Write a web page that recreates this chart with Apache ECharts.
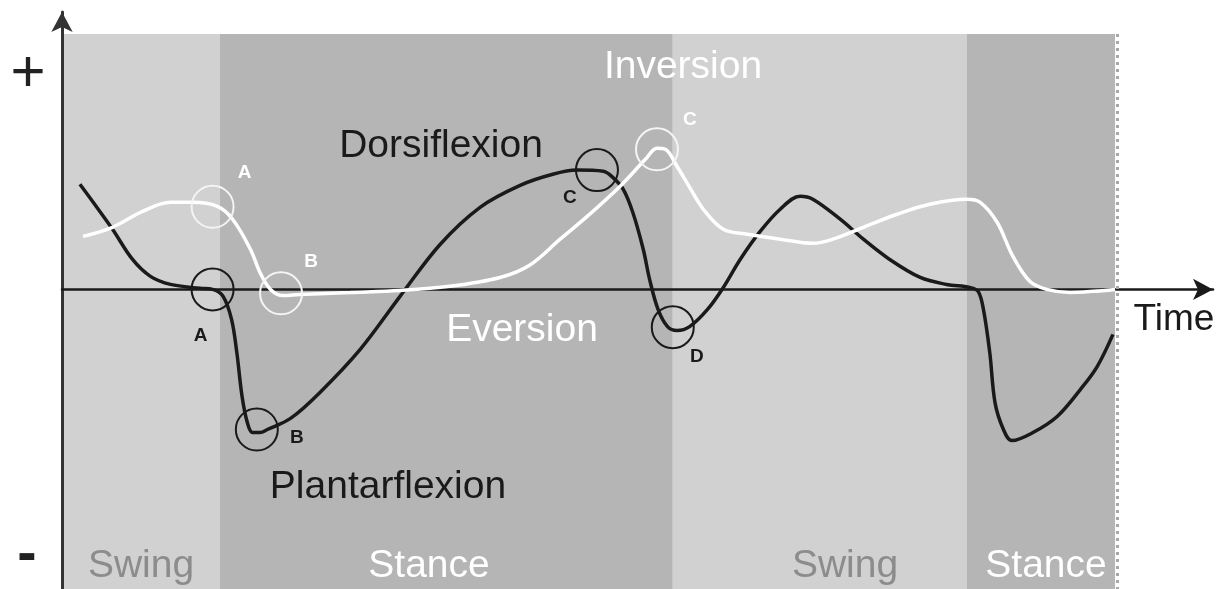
<!DOCTYPE html>
<html>
<head>
<meta charset="utf-8">
<title>Ankle angles over the gait cycle</title>
<script src="https://cdn.jsdelivr.net/npm/echarts@6/dist/echarts.min.js"></script>
<style>
  html, body { margin: 0; padding: 0; background: #fff; }
  #chart { width: 1227px; height: 589px; }
</style>
</head>
<body>
<div id="chart"></div>
<script>
  // time in % of the recorded window, angle in arbitrary units (no ticks on the figure)
  var dorsiTime = [1.7, 3.1, 4.8, 6.7, 8.4, 10.3, 13.1, 14.3, 15.3, 16.1, 16.6, 17.1, 17.6, 18.1, 18.8,
    19.5, 21.7, 24.4, 28.3, 32.1, 35.9, 39.7, 43.5, 46.6, 48.9, 51.4, 52.3, 53.3, 54.2,
    55.2, 55.8, 56.6, 57.5, 58.4, 59.6, 61.3, 62.8, 64.4, 66.3, 68.2, 70.1, 71.3, 73.9, 76.1,
    78.6, 81.5, 84.0, 86.2, 87.0, 87.5, 88.1, 88.6, 89.4, 90.2, 92.2, 94.5, 96.7, 98.3, 99.8];
  var dorsiAngle = [37.9, 30.7, 21.7, 10.8, 4.7, 1.8, 0.4, 0, -2.5, -10.8, -22.7, -38.6, -48.0, -51.6, -51.6,
    -50.5, -46.5, -37.5, -21.7, -2.5, 16.2, 29.6, 37.5, 41.5, 43.0, 42.6, 40.4, 36.1, 27.8,
    14.4, 3.6, -7.2, -13.4, -14.8, -13.4, -7.2, 0.7, 10.8, 20.9, 28.9, 33.6, 32.5, 25.3, 18.1,
    10.8, 4.3, 1.8, 0.7, -0.7, -7.2, -22.7, -40.8, -50.5, -54.5, -51.6, -45.8, -36.1, -27.8, -16.2];

  var inverTime = [2.0, 4.8, 7.7, 10.3, 12.4, 14.7, 16.2, 17.9, 18.8, 19.8, 21.0, 22.6, 27.4, 32.1, 36.8,
    41.6, 44.4, 47.3, 49.9, 53.0, 55.4, 56.5, 57.3, 58.4, 59.6, 60.9, 62.8, 65.1, 68.2, 71.3,
    73.2, 76.1, 79.3, 82.4, 85.9, 87.2, 88.8, 90.3, 91.9, 93.5, 95.7, 97.9, 100];
  var inverAngle = [19.1, 22.4, 28.2, 31.4, 31.4, 30.0, 25.3, 14.4, 6.1, 0, -2.2, -1.8, -1.1, -0.4, 1.1,
    4.3, 8.7, 18.1, 26.4, 37.2, 46.9, 50.9, 50.5, 44.4, 36.8, 28.9, 21.7, 19.9, 18.1, 16.6,
    18.1, 22.4, 27.1, 30.7, 32.5, 31.4, 24.2, 11.9, 2.9, 0, -1.1, -0.7, 0];

  // gait phases
  var phaseNames = ['Swing', 'Stance', 'Swing', 'Stance'];
  var phaseStart = [0, 15.0, 58.0, 85.9];
  var phaseEnd = [15.0, 58.0, 85.9, 100];

  // circled events
  var dorsiEventNames = ['A', 'B', 'C', 'D'];
  var dorsiEventTime = [14.3, 18.5, 50.8, 58.0];
  var dorsiEventAngle = [0, -50.5, 43.0, -13.6];
  var inverEventNames = ['A', 'B', 'C'];
  var inverEventTime = [14.3, 20.8, 56.5];
  var inverEventAngle = [29.8, -1.4, 50.5];

  var yMin = -108, yMax = 100, bandTop = 92.1, xMax = 109.3;
  var FONT = "'Liberation Sans', Arial, sans-serif";

  function pairs(xs, ys) {
    return xs.map(function (x, i) { return [x, ys[i]]; });
  }

  var bandAreas = phaseNames.map(function (name, i) {
    var col = name === 'Swing' ? '#d1d1d1' : '#b5b5b5';
    return [
      { xAxis: phaseStart[i], yAxis: yMin, itemStyle: { color: col } },
      { xAxis: phaseEnd[i], yAxis: bandTop }
    ];
  });

  var dorsiOffsets = [[-12, 46], [40, 8], [-27, 28], [24, 30]];
  var inverOffsets = [[32, -34], [30, -32], [33, -30]];

  function events(names, ts, vs, offsets) {
    return names.map(function (n, i) {
      return {
        name: n,
        value: [ts[i], vs[i]],
        label: { offset: offsets[i] }
      };
    });
  }

  var myChart = echarts.init(document.getElementById('chart'));

  var textItems = [
    ['+', 28, 74, '#222', 'normal 60px ' + FONT],
    ['-', 27, 556, '#222', 'bold 58px ' + FONT],
    ['Inversion', 683, 67, '#ffffff', '39px ' + FONT],
    ['Dorsiflexion', 441, 146, '#1a1a1a', '39px ' + FONT],
    ['Eversion', 522, 330, '#ffffff', '39px ' + FONT],
    ['Plantarflexion', 388, 487, '#1a1a1a', '39px ' + FONT],
    ['Time', 1174, 320, '#1a1a1a', '37px ' + FONT],
    ['Swing', 141, 566, '#8c8c8c', '39px ' + FONT],
    ['Stance', 429, 566, '#ffffff', '39px ' + FONT],
    ['Swing', 845, 566, '#8c8c8c', '39px ' + FONT],
    ['Stance', 1046, 566, '#ffffff', '39px ' + FONT]
  ];

  var option = {
    animation: false,
    grid: { left: 62, right: 14, top: 12, bottom: 0 },
    xAxis: {
      type: 'value',
      min: 0,
      max: xMax,
      z: 2,
      axisLine: {
        onZero: true,
        symbol: ['none', 'arrow'],
        symbolSize: [16, 20],
        lineStyle: { color: '#1a1a1a', width: 2.5 }
      },
      axisTick: { show: false },
      axisLabel: { show: false },
      splitLine: { show: false }
    },
    yAxis: {
      type: 'value',
      min: yMin,
      max: yMax,
      z: 2,
      axisLine: {
        show: true,
        symbol: ['none', 'arrow'],
        symbolSize: [16, 20],
        lineStyle: { color: '#333', width: 3 }
      },
      axisTick: { show: false },
      axisLabel: { show: false },
      splitLine: { show: false }
    },
    graphic: textItems.map(function (t) {
      return {
        type: 'text',
        x: t[1],
        y: t[2],
        z: 10,
        style: {
          text: t[0],
          fill: t[3],
          font: t[4],
          textAlign: 'center',
          textVerticalAlign: 'middle'
        }
      };
    }),
    series: [
      {
        // phase background bands
        type: 'line',
        data: [],
        z: 1,
        silent: true,
        markArea: { silent: true, data: bandAreas },
        markLine: {
          silent: true,
          symbol: 'none',
          label: { show: false },
          lineStyle: { color: '#a8a8a8', type: [3, 4], width: 3 },
          data: [[{ coord: [100.25, bandTop] }, { coord: [100.25, yMin] }]]
        }
      },
      {
        name: 'Dorsiflexion / Plantarflexion',
        type: 'line',
        z: 3,
        smooth: 0.35,
        showSymbol: false,
        lineStyle: { color: '#1a1a1a', width: 3.5 },
        data: pairs(dorsiTime, dorsiAngle)
      },
      {
        name: 'Inversion / Eversion',
        type: 'line',
        z: 4,
        smooth: 0.35,
        showSymbol: false,
        lineStyle: { color: '#ffffff', width: 3.5 },
        data: pairs(inverTime, inverAngle)
      },
      {
        type: 'scatter',
        z: 5,
        symbol: 'circle',
        symbolSize: 42,
        itemStyle: { color: 'rgba(0,0,0,0)', borderColor: '#1a1a1a', borderWidth: 2, opacity: 1 },
        label: {
          show: true,
          position: 'inside',
          formatter: '{b}',
          color: '#1a1a1a',
          fontFamily: FONT,
          fontWeight: 'bold',
          fontSize: 19
        },
        data: events(dorsiEventNames, dorsiEventTime, dorsiEventAngle, dorsiOffsets)
      },
      {
        type: 'scatter',
        z: 5,
        symbol: 'circle',
        symbolSize: 42,
        itemStyle: { color: 'rgba(0,0,0,0)', borderColor: '#f4f4f4', borderWidth: 2, opacity: 1 },
        label: {
          show: true,
          position: 'inside',
          formatter: '{b}',
          color: '#ffffff',
          fontFamily: FONT,
          fontWeight: 'bold',
          fontSize: 19
        },
        data: events(inverEventNames, inverEventTime, inverEventAngle, inverOffsets)
      }
    ]
  };

  myChart.setOption(option);

  window.addEventListener('resize', function () {
    myChart.resize();
  });
</script>
</body>
</html>
